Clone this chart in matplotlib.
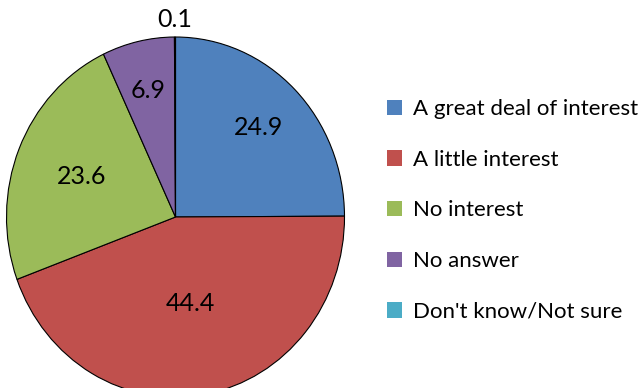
import matplotlib
matplotlib.use("Agg")
from matplotlib import pyplot as plt
from matplotlib.patches import Patch
import numpy as np

categories = ["A great deal of interest", "A little interest", "No interest",
              "No answer", "Don't know/Not sure"]
values = [24.9, 44.4, 23.6, 6.9, 0.1]
colors = ["#4F81BD", "#C0504D", "#9BBB59", "#8064A2", "#4BACC6"]
# how far out (fraction of radius) each value label sits
label_r = [0.70, 0.49, 0.60, 0.72, 1.10]

plt.rcParams['font.family'] = ['Lato', 'DejaVu Sans']

fig = plt.figure(figsize=(6.4, 3.88), dpi=100)
W, H = 640., 388.
# pie is drawn slightly taller than wide, bottom runs off the canvas
cx, cy, rx, ry = 175.5, 171., 169., 180.
ax = fig.add_axes([(cx - rx) / W, (cy - ry) / H, 2 * rx / W, 2 * ry / H])

wedges, _ = ax.pie(values, colors=colors, startangle=90, counterclock=False,
                   wedgeprops=dict(edgecolor='black', linewidth=0.8))
ax.set_xlim(-1, 1)
ax.set_ylim(-1, 1)
ax.set_aspect('auto')
ax.axis('off')

for w, v, d in zip(wedges, values, label_r):
    ang = np.deg2rad(0.5 * (w.theta1 + w.theta2))
    ax.text(d * np.cos(ang), d * np.sin(ang), "%.1f" % v, ha='center', va='center',
            fontsize=18, color='black', clip_on=False)

handles = [Patch(facecolor=c, edgecolor='none') for c in colors]
fig.legend(handles, categories, loc='upper left', bbox_to_anchor=(387 / W, 1 - 99 / H),
           frameon=False, fontsize=16, handlelength=0.68, handleheight=0.68,
           handletextpad=0.5, labelspacing=1.38, borderpad=0, borderaxespad=0)

fig.savefig("out.png", dpi=100)
